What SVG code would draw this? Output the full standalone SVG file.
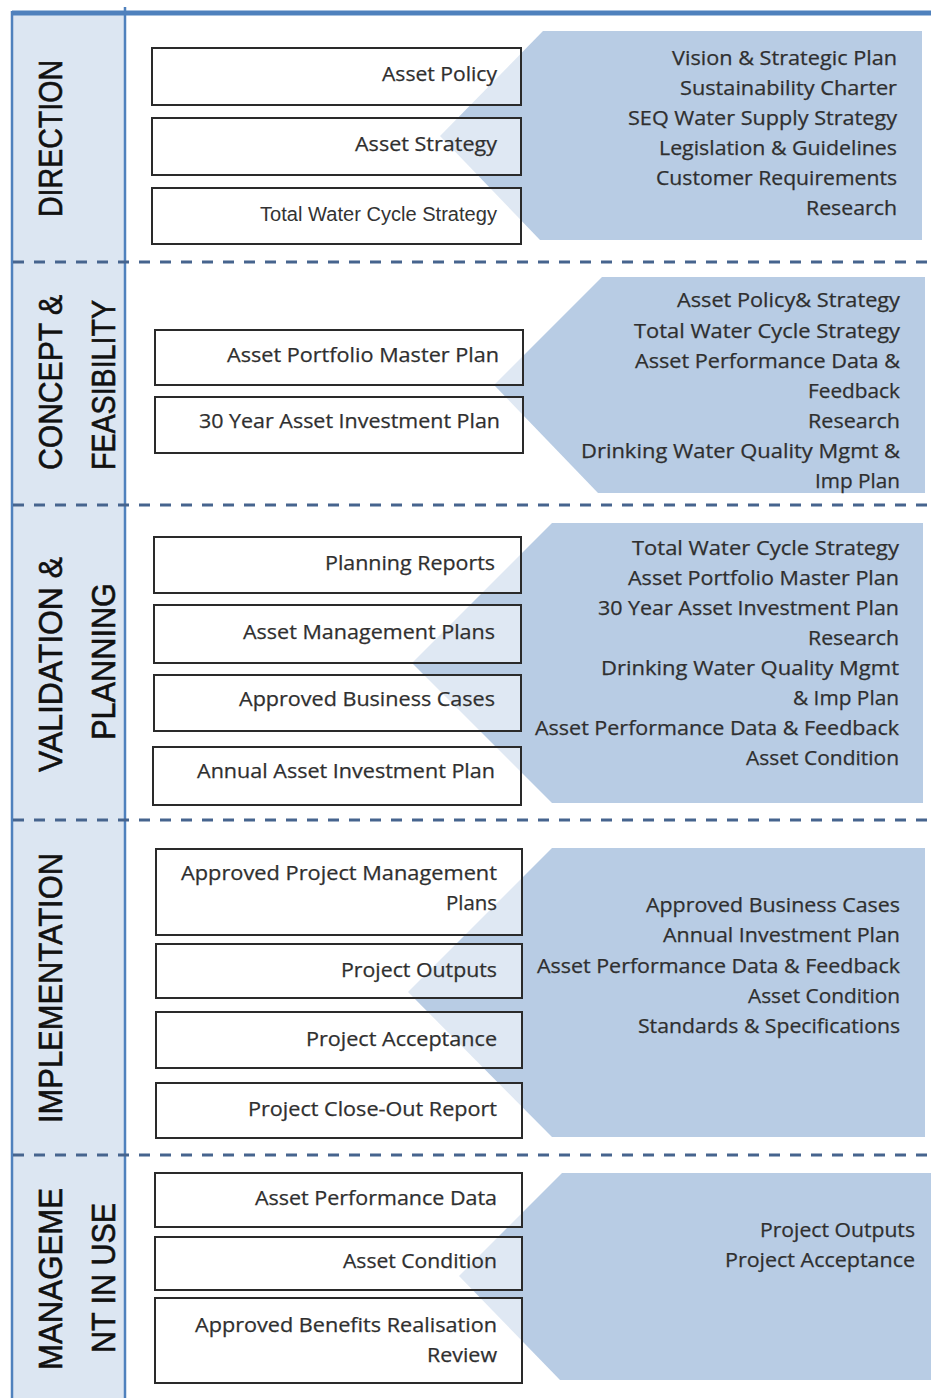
<svg xmlns="http://www.w3.org/2000/svg" width="931" height="1398" viewBox="0 0 931 1398">
<style>
.bg{fill:#ffffff}
.col{fill:#dce6f2}
.frame{stroke:#4f81bd;fill:none}
.dash{stroke:#46648e;stroke-width:3;stroke-dasharray:11 10;fill:none}
.pent{fill:#b8cce4}
.box{fill:#ffffff;fill-opacity:0.55;stroke:#2a2a2a;stroke-width:2}
.t{font-family:"Open Sans","Noto Sans","Liberation Sans",sans-serif;font-size:20px;fill:#2f2f2f;stroke:#2f2f2f;stroke-width:0.25}
.ta{font-family:"Liberation Sans",Arial,sans-serif;font-size:20px;fill:#333333}
.lab{font-family:"Liberation Sans",Arial,sans-serif;font-size:33px;fill:#111111;stroke:#111111;stroke-width:0.6;text-anchor:middle}
</style>
<rect class="bg" x="0" y="0" width="931" height="1398"/>
<g id="frame">
<rect class="col" x="13" y="14" width="112" height="1384"/>
<line class="frame" x1="12" y1="13" x2="931" y2="13" stroke-width="5"/>
<line class="frame" x1="12" y1="11" x2="12" y2="1398" stroke-width="2.5"/>
<line class="frame" x1="125" y1="7" x2="125" y2="1398" stroke-width="2.5"/>
<line class="dash" x1="13" y1="262" x2="931" y2="262"/>
<line class="dash" x1="13" y1="505" x2="931" y2="505"/>
<line class="dash" x1="13" y1="820" x2="931" y2="820"/>
<line class="dash" x1="13" y1="1155" x2="931" y2="1155"/>
</g>
<g id="labels">
<text class="lab" transform="translate(62,138.5) rotate(-90)" textLength="157" lengthAdjust="spacingAndGlyphs">DIRECTION</text>
<text class="lab" transform="translate(62,382.5) rotate(-90)" textLength="175" lengthAdjust="spacingAndGlyphs">CONCEPT &amp;</text>
<text class="lab" transform="translate(115,385) rotate(-90)" textLength="170" lengthAdjust="spacingAndGlyphs">FEASIBILITY</text>
<text class="lab" transform="translate(62,664.5) rotate(-90)" textLength="215" lengthAdjust="spacingAndGlyphs">VALIDATION &amp;</text>
<text class="lab" transform="translate(115,661.5) rotate(-90)" textLength="157" lengthAdjust="spacingAndGlyphs">PLANNING</text>
<text class="lab" transform="translate(62,988) rotate(-90)" textLength="270" lengthAdjust="spacingAndGlyphs">IMPLEMENTATION</text>
<text class="lab" transform="translate(62,1279) rotate(-90)" textLength="182" lengthAdjust="spacingAndGlyphs">MANAGEME</text>
<text class="lab" transform="translate(115,1278) rotate(-90)" textLength="150" lengthAdjust="spacingAndGlyphs">NT IN USE</text>
</g>
<g id="inputs-direction">
<polygon class="pent" points="543,31 922,31 922,240 540,240 440,136"/>
<text class="t" x="672" y="65" textLength="225" lengthAdjust="spacingAndGlyphs">Vision &amp; Strategic Plan</text>
<text class="t" x="680" y="95" textLength="217" lengthAdjust="spacingAndGlyphs">Sustainability  Charter</text>
<text class="t" x="628" y="125" textLength="269" lengthAdjust="spacingAndGlyphs">SEQ Water Supply  Strategy</text>
<text class="t" x="659" y="155" textLength="238" lengthAdjust="spacingAndGlyphs">Legislation &amp; Guidelines</text>
<text class="t" x="656" y="185" textLength="241" lengthAdjust="spacingAndGlyphs">Customer Requirements</text>
<text class="t" x="806" y="215" textLength="91" lengthAdjust="spacingAndGlyphs">Research</text>
</g>
<g id="inputs-concept">
<polygon class="pent" points="602,277 925,277 925,493 598,493 494,385"/>
<text class="t" x="677" y="307" textLength="223" lengthAdjust="spacingAndGlyphs">Asset Policy&amp;  Strategy</text>
<text class="t" x="634" y="338" textLength="266" lengthAdjust="spacingAndGlyphs">Total Water  Cycle Strategy</text>
<text class="t" x="635" y="368" textLength="265" lengthAdjust="spacingAndGlyphs">Asset Performance  Data &amp;</text>
<text class="t" x="808" y="398" textLength="92" lengthAdjust="spacingAndGlyphs">Feedback</text>
<text class="t" x="808" y="428" textLength="92" lengthAdjust="spacingAndGlyphs">Research</text>
<text class="t" x="581" y="458" textLength="319" lengthAdjust="spacingAndGlyphs">Drinking  Water Quality  Mgmt &amp;</text>
<text class="t" x="815" y="488" textLength="85" lengthAdjust="spacingAndGlyphs">Imp Plan</text>
</g>
<g id="inputs-validation">
<polygon class="pent" points="552,523 923,523 923,803 552,803 412,663"/>
<text class="t" x="632" y="555" textLength="267" lengthAdjust="spacingAndGlyphs">Total Water  Cycle Strategy</text>
<text class="t" x="628" y="585" textLength="271" lengthAdjust="spacingAndGlyphs">Asset Portfolio  Master Plan</text>
<text class="t" x="598" y="615" textLength="301" lengthAdjust="spacingAndGlyphs">30 Year Asset Investment  Plan</text>
<text class="t" x="808" y="645" textLength="91" lengthAdjust="spacingAndGlyphs">Research</text>
<text class="t" x="601" y="675" textLength="298" lengthAdjust="spacingAndGlyphs">Drinking  Water Quality  Mgmt</text>
<text class="t" x="793" y="705" textLength="106" lengthAdjust="spacingAndGlyphs">&amp; Imp Plan</text>
<text class="t" x="535" y="735" textLength="364" lengthAdjust="spacingAndGlyphs">Asset Performance  Data &amp; Feedback</text>
<text class="t" x="746" y="765" textLength="153" lengthAdjust="spacingAndGlyphs">Asset Condition</text>
</g>
<g id="inputs-implementation">
<polygon class="pent" points="552,848 925,848 925,1137 552,1137 408,992"/>
<text class="t" x="646" y="912" textLength="254" lengthAdjust="spacingAndGlyphs">Approved  Business Cases</text>
<text class="t" x="663" y="942" textLength="237" lengthAdjust="spacingAndGlyphs">Annual  Investment  Plan</text>
<text class="t" x="537" y="973" textLength="363" lengthAdjust="spacingAndGlyphs">Asset Performance  Data &amp; Feedback</text>
<text class="t" x="748" y="1003" textLength="152" lengthAdjust="spacingAndGlyphs">Asset Condition</text>
<text class="t" x="638" y="1033" textLength="262" lengthAdjust="spacingAndGlyphs">Standards &amp; Specifications</text>
</g>
<g id="inputs-management">
<polygon class="pent" points="562,1173 931,1173 931,1380 560,1380 459,1276"/>
<text class="t" x="760" y="1237" textLength="155" lengthAdjust="spacingAndGlyphs">Project Outputs</text>
<text class="t" x="725" y="1267" textLength="190" lengthAdjust="spacingAndGlyphs">Project Acceptance</text>
</g>
<g id="node-asset-policy"><rect class="box" x="152" y="48" width="369" height="57"/><text class="t" x="382" y="81" textLength="115" lengthAdjust="spacingAndGlyphs">Asset Policy</text></g>
<g id="node-asset-strategy"><rect class="box" x="152" y="118" width="369" height="57"/><text class="t" x="355" y="151" textLength="142" lengthAdjust="spacingAndGlyphs">Asset Strategy</text></g>
<g id="node-twcs"><rect class="box" x="152" y="188" width="369" height="56"/><text class="ta" x="260" y="221" textLength="237" lengthAdjust="spacingAndGlyphs">Total Water  Cycle Strategy</text></g>
<g id="node-apmp"><rect class="box" x="155" y="330" width="368" height="55"/><text class="t" x="227" y="362" textLength="272" lengthAdjust="spacingAndGlyphs">Asset Portfolio  Master Plan</text></g>
<g id="node-30yr"><rect class="box" x="155" y="397" width="368" height="56"/><text class="t" x="199" y="428" textLength="301" lengthAdjust="spacingAndGlyphs">30 Year Asset Investment Plan</text></g>
<g id="node-planning-reports"><rect class="box" x="154" y="537" width="367" height="56"/><text class="t" x="325" y="570" textLength="170" lengthAdjust="spacingAndGlyphs">Planning Reports</text></g>
<g id="node-amp"><rect class="box" x="154" y="605" width="367" height="58"/><text class="t" x="243" y="639" textLength="252" lengthAdjust="spacingAndGlyphs">Asset Management Plans</text></g>
<g id="node-abc"><rect class="box" x="154" y="675" width="367" height="56"/><text class="t" x="239" y="706" textLength="256" lengthAdjust="spacingAndGlyphs">Approved  Business Cases</text></g>
<g id="node-aaip"><rect class="box" x="153" y="747" width="368" height="58"/><text class="t" x="197" y="778" textLength="298" lengthAdjust="spacingAndGlyphs">Annual Asset Investment Plan</text></g>
<g id="node-apmplans"><rect class="box" x="156" y="849" width="366" height="86"/><text class="t" x="181" y="880" textLength="316" lengthAdjust="spacingAndGlyphs">Approved  Project Management</text><text class="t" x="446" y="910" textLength="51" lengthAdjust="spacingAndGlyphs">Plans</text></g>
<g id="node-project-outputs"><rect class="box" x="156" y="944" width="366" height="54"/><text class="t" x="341" y="977" textLength="156" lengthAdjust="spacingAndGlyphs">Project Outputs</text></g>
<g id="node-project-acceptance"><rect class="box" x="156" y="1012" width="366" height="56"/><text class="t" x="306" y="1046" textLength="191" lengthAdjust="spacingAndGlyphs">Project Acceptance</text></g>
<g id="node-closeout"><rect class="box" x="156" y="1083" width="366" height="55"/><text class="t" x="248" y="1116" textLength="249" lengthAdjust="spacingAndGlyphs">Project Close-Out  Report</text></g>
<g id="node-apd"><rect class="box" x="155" y="1173" width="367" height="54"/><text class="t" x="255" y="1205" textLength="242" lengthAdjust="spacingAndGlyphs">Asset Performance  Data</text></g>
<g id="node-condition"><rect class="box" x="155" y="1237" width="367" height="53"/><text class="t" x="343" y="1268" textLength="154" lengthAdjust="spacingAndGlyphs">Asset Condition</text></g>
<g id="node-abrr"><rect class="box" x="155" y="1298" width="367" height="85"/><text class="t" x="195" y="1332" textLength="302" lengthAdjust="spacingAndGlyphs">Approved  Benefits  Realisation</text><text class="t" x="427" y="1362" textLength="70" lengthAdjust="spacingAndGlyphs">Review</text></g>
</svg>
